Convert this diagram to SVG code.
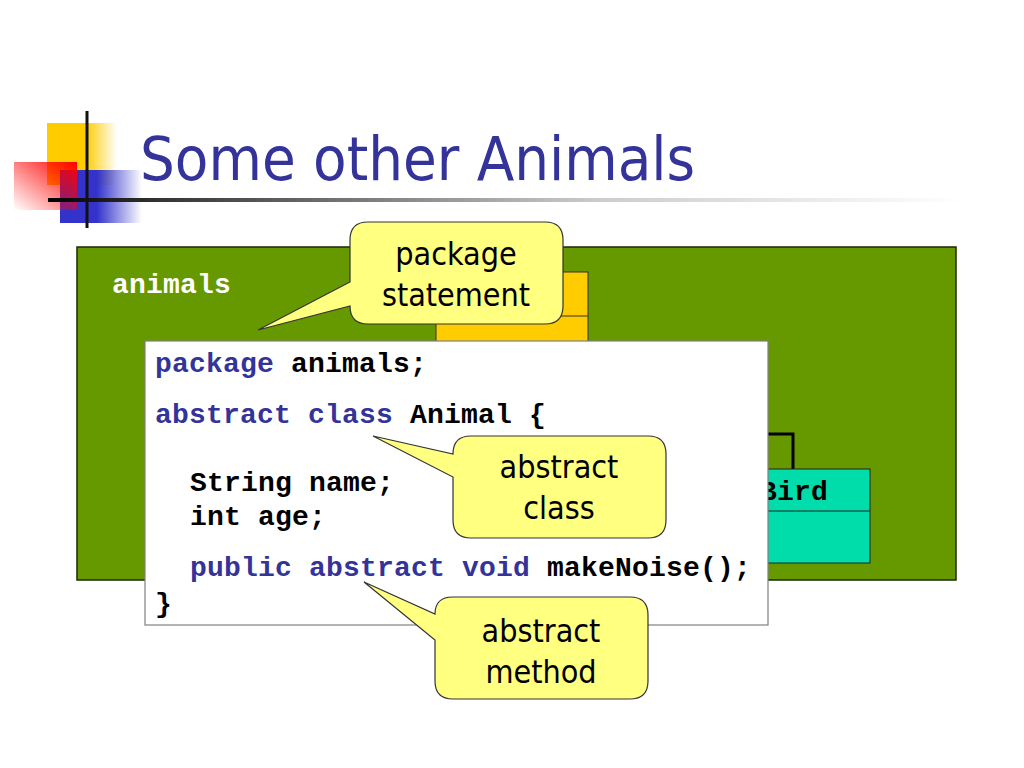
<svg xmlns="http://www.w3.org/2000/svg" width="1024" height="768" viewBox="0 0 1024 768">
<defs>
<linearGradient id="gY" x1="0" y1="0" x2="1" y2="0"><stop offset="0" stop-color="#FFCC00"/><stop offset="0.55" stop-color="#FFCC00"/><stop offset="1" stop-color="#FFCC00" stop-opacity="0"/></linearGradient>
<linearGradient id="gR" x1="1" y1="0" x2="0" y2="1"><stop offset="0" stop-color="#FF0000"/><stop offset="1" stop-color="#FF0000" stop-opacity="0"/></linearGradient>
<linearGradient id="gB" x1="0" y1="0" x2="1" y2="0"><stop offset="0" stop-color="#3333CC"/><stop offset="0.45" stop-color="#3333CC"/><stop offset="1" stop-color="#3333CC" stop-opacity="0"/></linearGradient>
<linearGradient id="gL" x1="0" y1="0" x2="1" y2="0"><stop offset="0" stop-color="#000"/><stop offset="0.12" stop-color="#333"/><stop offset="0.6" stop-color="#ccc"/><stop offset="1" stop-color="#fff"/></linearGradient>
<style>
.code{font-family:"Liberation Mono","Courier New",monospace;font-weight:bold;font-size:28px;letter-spacing:0.2px}
.kw{fill:#333399}
.bk{fill:#000}
.call{fill:#FFFF80;stroke:#333;stroke-width:1.2}
.ct{font-family:"DejaVu Sans Condensed","DejaVu Sans",sans-serif;font-size:32px;fill:#000;text-anchor:middle}
</style>
</defs>
<rect width="1024" height="768" fill="#fff"/>
<g id="title-decor">
<rect x="47" y="123" width="70" height="62" fill="url(#gY)"/>
<rect x="60" y="170" width="82" height="53" fill="url(#gB)"/>
<rect x="14" y="162" width="63" height="48" fill="url(#gR)"/>
<rect x="48" y="198" width="915" height="4" fill="url(#gL)"/>
<rect x="85.5" y="111" width="3" height="117" fill="#111"/>
</g>
<text id="title" x="140" y="180" font-family="DejaVu Sans Condensed,DejaVu Sans,sans-serif" font-size="61" fill="#333399">Some other Animals</text>
<g id="package-animals">
<rect x="77" y="247" width="879" height="333" fill="#669900" stroke="#1a2a00" stroke-width="1.5"/>
<text x="112" y="293" class="code" fill="#fff" font-size="27">animals</text>
</g>
<g id="class-orange">
<rect x="436" y="272" width="152" height="80" fill="#FFCC00" stroke="#333" stroke-width="1"/>
<line x1="436" y1="316" x2="588" y2="316" stroke="#333" stroke-width="1"/>
</g>
<g id="connectors">
<path d="M 700 434 H 793 V 469" fill="none" stroke="#000" stroke-width="3"/>
</g>
<g id="class-bird">
<rect x="700" y="469" width="170" height="94" fill="#00DDAA" stroke="#222" stroke-width="1"/>
<line x1="700" y1="511" x2="870" y2="511" stroke="#222" stroke-width="1"/>
<text x="760" y="500" class="code bk">Bird</text>
</g>
<g id="code-box">
<rect x="145" y="341" width="623" height="284" fill="#fff" stroke="#808080" stroke-width="1.2"/>
<text x="155" y="372" class="code"><tspan class="kw">package </tspan><tspan class="bk">animals;</tspan></text>
<text x="155" y="423" class="code"><tspan class="kw">abstract class </tspan><tspan class="bk">Animal {</tspan></text>
<text x="190" y="491" class="code bk">String name;</text>
<text x="190" y="525" class="code bk">int age;</text>
<text x="190" y="576" class="code"><tspan class="kw">public abstract void </tspan><tspan class="bk">makeNoise();</tspan></text>
<text x="155" y="612" class="code bk">}</text>
</g>
<g id="callout-package">
<path class="call" d="M 368 222 H 545 Q 563 222 563 240 V 306 Q 563 324 545 324 H 368 Q 350 324 350 306 L 258 330 L 350 282 V 240 Q 350 222 368 222 Z"/>
<text x="456" y="265" class="ct">package</text>
<text x="456" y="306" class="ct">statement</text>
</g>
<g id="callout-class">
<path class="call" d="M 471 436 H 648 Q 666 436 666 454 V 520 Q 666 538 648 538 H 471 Q 453 538 453 520 V 477 L 373 436 L 453 454 Q 453 436 471 436 Z"/>
<text x="559" y="478" class="ct">abstract</text>
<text x="559" y="519" class="ct">class</text>
</g>
<g id="callout-method">
<path class="call" d="M 453 597 H 630 Q 648 597 648 615 V 681 Q 648 699 630 699 H 453 Q 435 699 435 681 V 640 L 364 582 L 435 614 Q 435 597 453 597 Z"/>
<text x="541" y="642" class="ct">abstract</text>
<text x="541" y="683" class="ct">method</text>
</g>
</svg>
